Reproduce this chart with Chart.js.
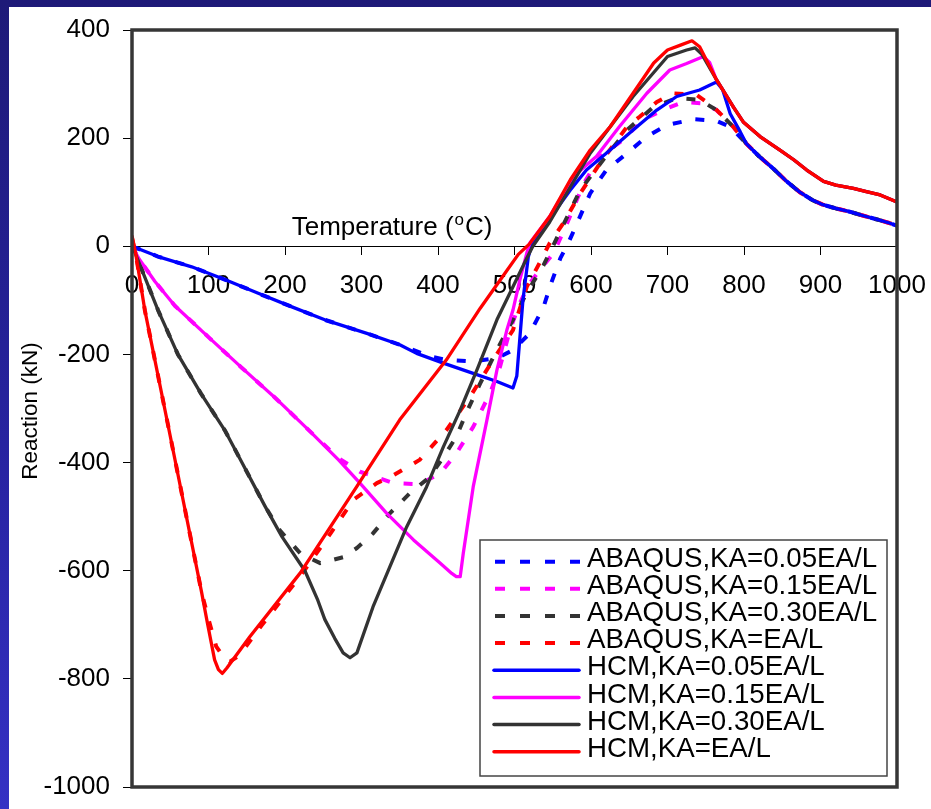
<!DOCTYPE html>
<html><head><meta charset="utf-8">
<script src="https://cdn.jsdelivr.net/npm/chart.js@4.4.1/dist/chart.umd.min.js"></script>
<style>
html,body{margin:0;padding:0;}
body{width:931px;height:809px;overflow:hidden;background:linear-gradient(to bottom,#1e1a78 0%,#2723a0 55%,#3531c4 100%);position:relative;}
#wrap{position:absolute;left:9px;top:7px;width:922px;height:802px;background:#fff;}
canvas{display:block;}
</style></head><body><div id="wrap"><canvas id="c" width="922" height="802"></canvas></div>
<script>
const xTicks = [0,100,200,300,400,500,600,700,800,900,1000];
const yTicks = [-1000,-800,-600,-400,-200,0,200,400];
const seriesLabels = ['ABAQUS,KA=0.05EA/L','ABAQUS,KA=0.15EA/L','ABAQUS,KA=0.30EA/L','ABAQUS,KA=EA/L',
  'HCM,KA=0.05EA/L','HCM,KA=0.15EA/L','HCM,KA=0.30EA/L','HCM,KA=EA/L'];
const xTitle = ['Temperature (','o','C)'];
const yTitle = 'Reaction (kN)';

// [temperature, reaction]
const abaqus005 = [[0,0],[34,-19],[78,-38],[122,-62],[165,-87],[209,-112],[252,-136],[307,-161],[350,-182],[390,-204],[411,-210],[446,-213],[477,-207],[498,-192],[520,-161],[538,-112],[548,-68],[560,-22],[570,5],[581,40],[599,98],[620,141],[647,172],[673,203],[699,224],[734,235],[764,232],[782,221],[803,190],[820,166],[838,144],[855,121],[873,100],[890,85],[903,77],[920,70],[938,64],[955,57],[973,50],[990,43],[1000,38]];
const abaqus015 = [[0,0],[10,-25],[30,-65],[56,-110],[100,-168],[143,-224],[187,-280],[231,-340],[270,-392],[298,-417],[342,-438],[376,-440],[403,-420],[424,-383],[446,-334],[468,-272],[481,-223],[494,-155],[507,-105],[520,-68],[533,-44],[551,-13],[568,40],[590,115],[612,166],[642,197],[668,234],[694,252],[721,267],[747,264],[764,252],[786,221],[803,190],[820,166],[838,144],[855,121],[873,100],[890,85],[903,77],[920,70],[938,64],[955,57],[973,50],[990,43],[1000,38]];
const abaqus030 = [[0,5],[4,-12],[34,-118],[60,-200],[90,-272],[122,-342],[143,-398],[174,-481],[193,-525],[220,-568],[246,-586],[276,-575],[294,-558],[315,-531],[337,-494],[363,-457],[389,-427],[407,-390],[424,-352],[438,-305],[455,-254],[477,-192],[498,-136],[516,-86],[538,-35],[557,20],[586,104],[616,160],[647,215],[682,258],[712,274],[742,271],[764,252],[786,221],[803,190],[820,166],[838,144],[855,121],[873,100],[890,85],[903,77],[920,70],[938,64],[955,57],[973,50],[990,43],[1000,38]];
const abaqusEA = [[0,15],[5,-15],[17,-120],[47,-330],[69,-485],[91,-640],[100,-690],[110,-740],[120,-760],[128,-768],[140,-757],[170,-700],[220,-610],[260,-530],[290,-468],[320,-438],[340,-425],[376,-395],[411,-340],[442,-278],[472,-210],[498,-155],[516,-75],[535,-25],[546,6],[564,43],[586,98],[612,154],[647,221],[664,240],[686,267],[707,283],[738,280],[760,258],[786,221],[803,190],[820,166],[838,144],[855,121],[873,100],[890,85],[903,77],[920,70],[938,64],[955,57],[973,50],[990,43],[1000,38]];
const hcm005 = [[0,0],[34,-19],[78,-38],[122,-62],[165,-87],[209,-112],[252,-136],[307,-161],[350,-182],[372,-198],[407,-216],[446,-235],[477,-250],[498,-262],[503,-240],[511,-100],[518,-20],[522,0],[530,20],[551,61],[573,104],[594,141],[625,178],[655,215],[686,252],[712,277],[742,289],[764,304],[772,290],[782,245],[795,212],[803,190],[820,166],[838,144],[855,121],[873,100],[890,85],[903,77],[920,70],[938,64],[955,57],[973,50],[990,43],[1000,38]];
const hcm015 = [[0,0],[10,-25],[30,-65],[56,-110],[100,-168],[143,-224],[187,-280],[231,-340],[270,-395],[298,-438],[333,-494],[368,-543],[403,-586],[418,-605],[424,-611],[429,-611],[433,-568],[446,-445],[464,-321],[477,-229],[490,-155],[498,-118],[507,-62],[516,-13],[520,6],[546,55],[577,129],[607,166],[637,221],[673,283],[703,326],[725,338],[747,351],[755,340],[764,308],[786,258],[799,230],[821,203],[847,178],[865,160],[882,141],[904,120],[920,113],[943,107],[960,101],[978,95],[1000,82]];
const hcm030 = [[0,5],[4,-12],[34,-118],[60,-200],[90,-272],[122,-342],[143,-398],[174,-481],[196,-537],[226,-600],[243,-655],[252,-690],[265,-725],[276,-752],[285,-761],[294,-752],[315,-667],[337,-593],[359,-519],[385,-445],[407,-371],[429,-303],[452,-225],[477,-136],[498,-75],[516,-22],[524,0],[546,45],[599,172],[655,277],[700,351],[725,363],[736,367],[745,355],[764,308],[786,258],[799,230],[821,203],[847,178],[865,160],[882,141],[904,120],[920,113],[943,107],[960,101],[978,95],[1000,82]];
const hcmEA = [[0,20],[5,-15],[17,-120],[47,-330],[69,-485],[91,-640],[99,-700],[108,-765],[113,-783],[118,-790],[124,-780],[154,-722],[220,-604],[294,-444],[350,-321],[411,-210],[455,-115],[485,-55],[505,-15],[520,5],[546,55],[573,123],[599,178],[625,221],[655,283],[682,339],[700,363],[717,372],[732,380],[742,369],[764,308],[786,258],[799,230],[821,203],[847,178],[865,160],[882,141],[904,120],[920,113],[943,107],[960,101],[978,95],[1000,82]];

const FONT = "'Liberation Sans', Arial, Helvetica, sans-serif";
const colors = ['#0000ff','#ff00ff','#333333','#ff0000'];
const allSeries = [abaqus005, abaqus015, abaqus030, abaqusEA, hcm005, hcm015, hcm030, hcmEA];
const DASH = [9,14];

const datasets = allSeries.map((s,i)=>({
  label: seriesLabels[i],
  data: s.map(p=>({x:p[0], y:p[1]})),
  borderColor: colors[i%4],
  backgroundColor: colors[i%4],
  borderWidth: i<4 ? 4 : 3.3,
  borderDash: i<4 ? DASH : [],
  borderCapStyle: 'butt',
  borderJoinStyle: 'round',
  pointRadius: 0,
  fill: false,
  tension: 0,
  order: 7 - i
}));

const decorPlugin = {
  id: 'decor',
  afterDatasetsDraw(chart){
    const {ctx, chartArea:a} = chart;
    ctx.save();
    ctx.strokeStyle = '#363636';
    ctx.lineWidth = 3.5;
    ctx.strokeRect(a.left, a.top, a.right-a.left, a.bottom-a.top);
    ctx.restore();
  },
  afterDraw(chart){
    const {ctx, chartArea:a} = chart;
    ctx.save();
    // x-axis title
    ctx.fillStyle = '#000';
    ctx.textBaseline = 'alphabetic';
    ctx.textAlign = 'left';
    let tx = a.left + 159.7, ty = a.top + 205;
    ctx.font = '26px ' + FONT;
    ctx.fillText(xTitle[0], tx, ty); tx += ctx.measureText(xTitle[0]).width + 1;
    ctx.font = '17px ' + FONT;
    ctx.fillText(xTitle[1], tx, ty - 10); tx += ctx.measureText(xTitle[1]).width + 1;
    ctx.font = '26px ' + FONT;
    ctx.fillText(xTitle[2], tx, ty);
    // y-axis title
    ctx.save();
    ctx.translate(22, 404);
    ctx.rotate(-Math.PI/2);
    ctx.textAlign = 'center';
    ctx.textBaseline = 'middle';
    ctx.font = '22.5px ' + FONT;
    ctx.fillText(yTitle, 0, 0);
    ctx.restore();
    // legend
    const bx = a.right - 417, by = a.bottom - 247, bw = 407, bh = 236;
    ctx.fillStyle = '#fff';
    ctx.fillRect(bx, by, bw, bh);
    ctx.strokeStyle = '#444';
    ctx.lineWidth = 1.5;
    ctx.strokeRect(bx, by, bw, bh);
    const rowH = 27.14;
    chart.data.datasets.forEach((ds,i)=>{
      const ly = by + 21.7 + i*rowH;
      ctx.beginPath();
      ctx.strokeStyle = ds.borderColor;
      ctx.lineWidth = i<4 ? 4 : 3.5;
      ctx.lineCap = i<4 ? 'butt' : 'round';
      ctx.setLineDash(i<4 ? [10,15] : []);
      if (i<4) { ctx.moveTo(bx+15, ly); ctx.lineTo(bx+100, ly); }
      else { ctx.moveTo(bx+14, ly); ctx.lineTo(bx+99, ly); }
      ctx.stroke();
      ctx.setLineDash([]);
      ctx.fillStyle = '#000';
      ctx.font = '27.7px ' + FONT;
      ctx.textAlign = 'left';
      ctx.textBaseline = 'alphabetic';
      ctx.fillText(ds.label, bx + 107, ly + 5.2);
    });
    ctx.restore();
  }
};

new Chart(document.getElementById('c').getContext('2d'), {
  type: 'line',
  data: { datasets },
  options: {
    animation: false,
    responsive: false,
    devicePixelRatio: 1,
    layout: { padding: { left: 0, top: 23, right: 34, bottom: 22 } },
    plugins: { legend: { display: false }, tooltip: { enabled: false } },
    scales: {
      x: {
        type: 'linear', position: { y: 0 }, min: 0, max: 1000,
        afterBuildTicks: s => { s.ticks = xTicks.map(v => ({ value: v })); },
        afterFit: s => { s.paddingLeft = 0; s.paddingRight = 0; s.paddingTop = 0; s.paddingBottom = 0; },
        grid: { drawOnChartArea: false, drawTicks: true, tickLength: 8, color: '#000', lineWidth: 1 },
        border: { display: true, color: '#000', width: 1 },
        ticks: { font: { family: FONT, size: 26 }, color: '#000', padding: 16, maxRotation: 0, autoSkip: false, callback: v => String(v) }
      },
      y: {
        type: 'linear', position: 'left', min: -1000, max: 400,
        afterBuildTicks: s => { s.ticks = yTicks.map(v => ({ value: v })); },
        afterFit: s => { s.width = 123; s.paddingTop = 0; s.paddingBottom = 0; s.paddingLeft = 0; s.paddingRight = 0; },
        grid: { drawOnChartArea: false, drawTicks: true, tickLength: 9, color: '#000', lineWidth: 1 },
        border: { display: false },
        ticks: { font: { family: FONT, size: 26 }, color: '#000', padding: 13, autoSkip: false, callback: v => String(v) }
      }
    }
  },
  plugins: [decorPlugin]
});
</script>
</body></html>
